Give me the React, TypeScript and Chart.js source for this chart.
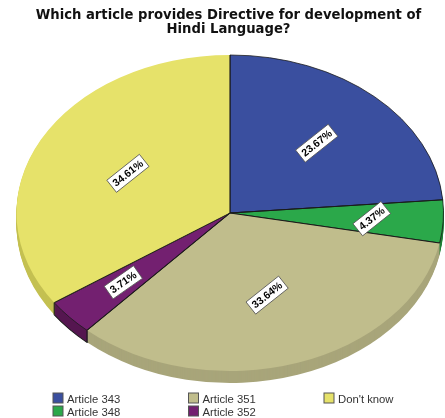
import React, { useEffect, useRef } from "react";
import { Chart, registerables } from "chart.js";

Chart.register(...registerables);

const categories = ["Article 343", "Article 348", "Article 351", "Article 352", "Don't know"];
const shares = [23.67, 4.37, 33.64, 3.71, 34.61];
const shareLabels = ["23.67%", "4.37%", "33.64%", "3.71%", "34.61%"];
const colors = ["#3A4F9F", "#2BA84A", "#C0BD8C", "#732070", "#E6E26A"];
const sideColors = ["#2C3C78", "#208038", "#A8A57A", "#551650", "#C4C052"];
const titleLines = ["Which article provides Directive for development of", "Hindi Language?"];

const ellipse = { cx: 230, cy: 213, rx: 213.5, ry: 158, depth: 12 };
const labelFractions = [0.6, 0.665, 0.548, 0.665, 0.54];
const labelAngles = [-38.5, -38.5, -38.5, -35, -38.5];
const legendOrder = [0, 1, 2, 3, 4];
const legendSlots = [
  [53, 393],
  [53, 406],
  [188.5, 393],
  [188.5, 406],
  [324, 393],
];
const EDGE = "#1a1a1a";
const outlinedSlices = [true, true, false, true, false];

const ellipsePlugin = {
  id: "ellipsePlugin",
  beforeDatasetsDraw(chart: any) {
    const ctx = chart.ctx;
    const arcs = chart.getDatasetMeta(0).data;
    const a0 = arcs[0];
    const R = a0.outerRadius;
    ctx.save();
    ctx.translate(ellipse.cx, ellipse.cy);
    ctx.scale(ellipse.rx / R, ellipse.ry / R);
    ctx.translate(-a0.x, -a0.y);
    const unit = R / ellipse.ry;
    for (let d = ellipse.depth; d >= 1; d--) {
      arcs.forEach((arc: any, i: number) => {
        const original = arc.options;
        const edged = i === 3 && d === ellipse.depth;
        arc.options = {
          ...original,
          backgroundColor: sideColors[i],
          borderColor: edged ? EDGE : sideColors[i],
          borderWidth: edged ? 1 : 0,
        };
        ctx.save();
        ctx.translate(0, d * unit);
        arc.draw(ctx);
        ctx.restore();
        arc.options = original;
      });
    }
    // vertical corners of the sliced-out purple side
    const p = arcs[3];
    ctx.strokeStyle = EDGE;
    ctx.lineWidth = 0.9;
    [p.startAngle, p.endAngle].forEach((t: number) => {
      const x = p.x + Math.cos(t) * R;
      const y = p.y + Math.sin(t) * R;
      ctx.beginPath();
      ctx.moveTo(x, y);
      ctx.lineTo(x, y + ellipse.depth * unit);
      ctx.stroke();
    });
  },
  afterDatasetsDraw(chart: any) {
    const ctx = chart.ctx;
    const arcs = chart.getDatasetMeta(0).data;
    // radial separators only, so the tan and yellow rims stay free of a dark outline
    const a0 = arcs[0];
    ctx.strokeStyle = EDGE;
    ctx.lineWidth = 0.9;
    arcs.forEach((arc: any) => {
      ctx.beginPath();
      ctx.moveTo(a0.x, a0.y);
      ctx.lineTo(a0.x + Math.cos(arc.startAngle) * a0.outerRadius, a0.y + Math.sin(arc.startAngle) * a0.outerRadius);
      ctx.stroke();
    });
    ctx.restore();
    arcs.forEach((arc: any, i: number) => {
      const mid = (arc.startAngle + arc.endAngle) / 2;
      const f = labelFractions[i];
      const x = ellipse.cx + Math.cos(mid) * ellipse.rx * f;
      const y = ellipse.cy + Math.sin(mid) * ellipse.ry * f;
      ctx.save();
      ctx.translate(x, y);
      ctx.rotate((labelAngles[i] * Math.PI) / 180);
      ctx.font = "bold 10.5px 'Liberation Sans'";
      const w = ctx.measureText(shareLabels[i]).width + 6;
      const h = 15.5;
      ctx.fillStyle = "#ffffff";
      ctx.strokeStyle = "#555555";
      ctx.lineWidth = 0.8;
      ctx.fillRect(-w / 2, -h / 2, w, h);
      ctx.strokeRect(-w / 2, -h / 2, w, h);
      ctx.fillStyle = "#000000";
      ctx.textAlign = "center";
      ctx.textBaseline = "middle";
      ctx.fillText(shareLabels[i], 0, 0.5);
      ctx.restore();
    });
    legendOrder.forEach((k, n) => {
      const [x, y] = legendSlots[n];
      ctx.save();
      ctx.fillStyle = colors[k];
      ctx.strokeStyle = "#555555";
      ctx.lineWidth = 1;
      ctx.fillRect(x, y, 10, 10);
      ctx.strokeRect(x, y, 10, 10);
      ctx.fillStyle = "#333333";
      ctx.font = "11.3px 'Liberation Sans'";
      ctx.textBaseline = "middle";
      ctx.textAlign = "left";
      ctx.fillText(categories[k], x + 14, y + 7);
      ctx.restore();
    });
  },
};

export default function App() {
  const ref = useRef<HTMLCanvasElement>(null);
  useEffect(() => {
    document.body.style.margin = "0";
    const chart = new Chart(ref.current as HTMLCanvasElement, {
      type: "pie",
      data: {
        labels: categories,
        datasets: [
          {
            data: shares,
            backgroundColor: colors,
            borderColor: outlinedSlices.map((on, i) => (on ? EDGE : colors[i])),
            borderWidth: outlinedSlices.map((on) => (on ? 0.7 : 0)),
          },
        ],
      },
      options: {
        responsive: false,
        animation: false,
        layout: { padding: { top: 0, left: 12, right: 0, bottom: 40 } },
        plugins: {
          legend: { display: false },
          tooltip: { enabled: false },
          title: {
            display: true,
            text: titleLines,
            color: "#111111",
            font: { family: "'DejaVu Sans'", size: 13.2, weight: "bold", lineHeight: 1.02 },
            padding: { top: 9, bottom: 4 },
          },
        },
      },
      plugins: [ellipsePlugin],
    } as any);
    return () => chart.destroy();
  }, []);
  return <canvas ref={ref} width={445} height={418} style={{ display: "block", filter: "blur(0.4px)" }} />;
}
